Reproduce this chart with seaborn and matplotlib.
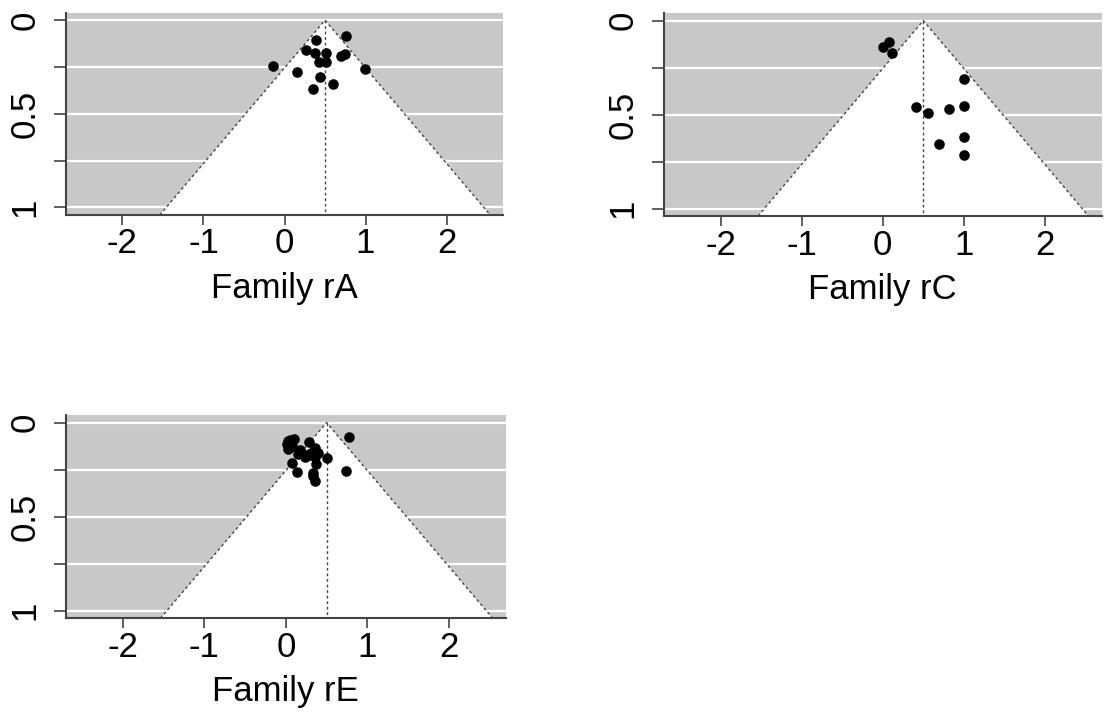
import numpy as np
import pandas as pd
import matplotlib
matplotlib.use("Agg")
import matplotlib.pyplot as plt
import seaborn as sns

# ---- data (effect estimate, standard error) ----
rA_est = [0.765, 0.387, 0.263, 0.374, 0.506, 0.745, 0.691, 0.424, 0.506, -0.140,
          0.992, 0.156, 0.436, 0.601, 0.354]
rA_se = [0.085, 0.107, 0.160, 0.173, 0.173, 0.178, 0.190, 0.222, 0.222, 0.244,
         0.263, 0.279, 0.302, 0.343, 0.370]

rC_est = [0.081, 0.004, 0.115, 1.0, 0.406, 1.0, 0.556, 0.821, 1.0, 0.688, 1.0]
rC_se = [0.116, 0.141, 0.171, 0.313, 0.459, 0.456, 0.491, 0.473, 0.619, 0.658, 0.717]

rE_est = [0.769, 0.054, 0.106, 0.012, 0.282, 0.025, 0.080, 0.168, 0.209, 0.311,
          0.360, 0.393, 0.503, 0.074, 0.140, 0.373, 0.332, 0.353, 0.741, 0.147,
          0.353, 0.230, 0.290, 0.170, 0.030, 0.330]
rE_se = [0.078, 0.094, 0.085, 0.112, 0.103, 0.139, 0.125, 0.148, 0.166, 0.162,
         0.135, 0.162, 0.189, 0.215, 0.260, 0.219, 0.268, 0.308, 0.258, 0.166,
         0.184, 0.183, 0.171, 0.157, 0.100, 0.285]

center = 0.5
panel_labels = ["Family rA", "Family rC", "Family rE"]
x_ticks = [-2, -1, 0, 1, 2]
y_ticks = [0, 0.25, 0.5, 0.75, 1]
y_ticklabels = ["0", "", "0.5", "", "1"]

sns.set_theme(style="white")
plt.rcParams["font.family"] = ["Liberation Sans", "DejaVu Sans"]

fig = plt.figure(figsize=(11.04, 7.13), dpi=100)
positions = [
    [0.0595, 0.6985, 0.3964, 0.2837],
    [0.6014, 0.6970, 0.3964, 0.2847],
    [0.0595, 0.1328, 0.3988, 0.2851],
]
datasets = [(rA_est, rA_se), (rC_est, rC_se), (rE_est, rE_se)]

xlim = (-2.70, 2.70)
ylim = (1.04, -0.04)
FS = 25

for pos, (est, se), lab in zip(positions, datasets, panel_labels):
    ax = fig.add_axes(pos)
    ax.set_facecolor("#c8c8c8")
    for yv in y_ticks:
        ax.axhline(yv, color="white", lw=1.6, zorder=1)
    se_max = ylim[0]
    se_line = np.array([0.0, se_max])
    lo = center - 1.96 * se_line
    hi = center + 1.96 * se_line
    ax.fill([center, lo[1], hi[1]], [0, se_max, se_max], color="white", zorder=2, lw=0)
    ax.plot([lo[1], center, hi[1]], [se_max, 0, se_max], color="#444444",
            ls=(0, (2, 2)), lw=1.0, zorder=3)
    ax.plot([center, center], [0, se_max], color="#444444", ls=(0, (2, 2)), lw=1.0, zorder=3)
    df = pd.DataFrame({"est": est, "se": se})
    sns.scatterplot(data=df, x="est", y="se", ax=ax, color="black", s=58,
                    edgecolor="black", linewidth=0, zorder=4)
    ax.set_xlim(*xlim)
    ax.set_ylim(*ylim)
    ax.set_xticks(x_ticks)
    ax.set_xticklabels([str(t) for t in x_ticks])
    ax.set_yticks(y_ticks)
    ax.set_yticklabels(y_ticklabels, rotation=90, va="center")
    ax.tick_params(axis="x", bottom=True, length=7, width=1.2, color="#444444",
                   pad=2, labelcolor="black", labelsize=FS)
    ax.tick_params(axis="y", left=True, length=8.5, width=1.2, color="#444444",
                   pad=9, labelcolor="black", labelsize=FS)
    ax.set_xlabel(lab, fontsize=FS, labelpad=8, color="black")
    ax.set_ylabel("")
    for s in ["top", "right"]:
        ax.spines[s].set_visible(False)
    for s in ["left", "bottom"]:
        ax.spines[s].set_color("#444444")
        ax.spines[s].set_linewidth(1.5)
    ax.grid(False)

fig.savefig("out.png", dpi=100)
